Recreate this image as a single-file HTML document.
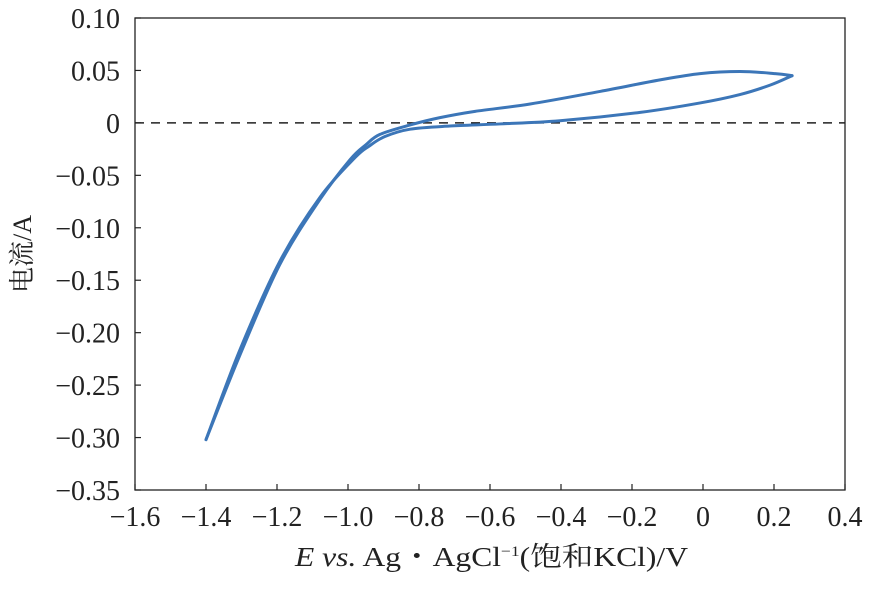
<!DOCTYPE html>
<html><head><meta charset="utf-8"><style>
body{margin:0;background:#fff}
svg text{font-family:"Liberation Serif","Noto Serif CJK SC",serif;fill:#222}
</style></head><body>
<svg width="870" height="587" viewBox="0 0 870 587">
<g id="g"></g>
</svg>
<script>
const xTicks=[-1.6,-1.4,-1.2,-1.0,-0.8,-0.6,-0.4,-0.2,0,0.2,0.4];
const xTickLabels=["−1.6","−1.4","−1.2","−1.0","−0.8","−0.6","−0.4","−0.2","0","0.2","0.4"];
const yTicks=[0.10,0.05,0,-0.05,-0.10,-0.15,-0.20,-0.25,-0.30,-0.35];
const yTickLabels=["0.10","0.05","0","−0.05","−0.10","−0.15","−0.20","−0.25","−0.30","−0.35"];
const forwardE=[-1.4,-1.304,-1.192,-1.079,-0.994,-0.950,-0.910,-0.825,-0.741,-0.642,-0.487,-0.290,-0.121,-0.008,0.104,0.203,0.251];
const forwardI=[-0.302,-0.221,-0.135,-0.073,-0.035,-0.021,-0.011,-0.002,0.005,0.011,0.018,0.030,0.041,0.047,0.049,0.047,0.045];
const reverseE=[0.251,0.189,0.104,-0.008,-0.177,-0.403,-0.572,-0.713,-0.825,-0.896,-0.940,-0.980,-1.079,-1.192,-1.304,-1.4];
const reverseI=[0.045,0.036,0.027,0.019,0.010,0.002,-0.001,-0.003,-0.006,-0.013,-0.022,-0.033,-0.071,-0.132,-0.216,-0.302];
const L=135,R=845,T=18,B=490,x0=-1.6,x1=0.4,y0=-0.35,y1=0.10;
const X=v=>L+(v-x0)/(x1-x0)*(R-L), Y=v=>B-(v-y0)/(y1-y0)*(B-T);
const NS="http://www.w3.org/2000/svg", g=document.getElementById('g');
function mk(t,a,txt){const e=document.createElementNS(NS,t);for(const k in a)e.setAttribute(k,a[k]);if(txt!=null)e.textContent=txt;g.appendChild(e);return e;}
let e=mk('rect',{x:L,y:T,width:R-L,height:B-T,fill:'none',stroke:'#222','stroke-width':1.3});

xTicks.forEach((v,i)=>{
 let t=mk('line',{x1:X(v),x2:X(v),y1:B,y2:B-6,stroke:'#222','stroke-width':1.2});
 
 let l=mk('text',{x:X(v),y:B+36,'text-anchor':'middle','font-size':28},xTickLabels[i]);
 
});
yTicks.forEach((v,i)=>{
 let t=mk('line',{x1:L,x2:L+6,y1:Y(v),y2:Y(v),stroke:'#222','stroke-width':1.2});
 
 let l=mk('text',{x:L-15,y:Y(v)+10,'text-anchor':'end','font-size':28},yTickLabels[i]);
 
});
let z=mk('line',{x1:L,x2:R,y1:Y(0),y2:Y(0),stroke:'#222','stroke-width':1.5,'stroke-dasharray':'9,7'});

function smooth(E,I){const p=E.map((v,i)=>[X(v),Y(I[i])]);let d='M'+p[0];for(let i=0;i<p.length-1;i++){const a=p[i-1]||p[i],b=p[i],c=p[i+1],n=p[i+2]||c;d+=' C'+(b[0]+(c[0]-a[0])/6)+','+(b[1]+(c[1]-a[1])/6)+' '+(c[0]-(n[0]-b[0])/6)+','+(c[1]-(n[1]-b[1])/6)+' '+c;}return d;}
let f=mk('path',{d:smooth(forwardE,forwardI),fill:'none',stroke:'#3c76b8','stroke-width':3,'stroke-linecap':'round'});

let r=mk('path',{d:smooth(reverseE,reverseI),fill:'none',stroke:'#3c76b8','stroke-width':3,'stroke-linecap':'round'});

let xt=mk('text',{x:295,y:566,'text-anchor':'start','font-size':27,textLength:393,lengthAdjust:'spacingAndGlyphs'});

xt.innerHTML='<tspan font-style="italic">E vs.</tspan> Ag・AgCl<tspan dy="-10" font-size="15">−1</tspan><tspan dy="10">(饱和KCl)/V</tspan>';
let yt=mk('text',{x:0,y:0,'text-anchor':'middle','font-size':26,transform:'translate(31,254) rotate(-90)'},'电流/A');

</script>
</body></html>
